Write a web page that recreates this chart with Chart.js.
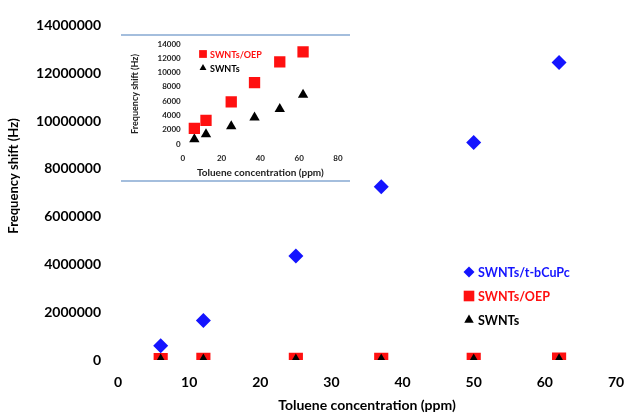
<!DOCTYPE html>
<html>
<head>
<meta charset="utf-8">
<script src="https://cdn.jsdelivr.net/npm/chart.js@4/dist/chart.umd.min.js"></script>
<style>
  html, body { margin: 0; padding: 0; background: #fff; }
  #wrap { position: relative; width: 627px; height: 415px; }
  #main { position: absolute; left: 0; top: 0; }
  #insetBox {
    position: absolute; left: 121px; top: 34px; width: 229px; height: 144px;
    background: #fff; border-top: 2px solid #a4bedd; border-bottom: 2px solid #a4bedd;
  }
  #inset { position: absolute; left: 0; top: 0; }
</style>
</head>
<body>
<div id="wrap">
  <canvas id="main" width="627" height="415"></canvas>
  <div id="insetBox"><canvas id="inset" width="229" height="144"></canvas></div>
</div>
<script>
// Données
const concentration = [6, 12, 25, 37, 50, 62];
const tbcupcShift = [600000, 1650000, 4350000, 7250000, 9100000, 12450000];
const oepShift = [2200, 3300, 5900, 8600, 11500, 12900];
const swntShift = [650, 1350, 2500, 3700, 4900, 6900];

const mainXTicks = [0, 10, 20, 30, 40, 50, 60, 70];
const mainYTicks = [0, 2000000, 4000000, 6000000, 8000000, 10000000, 12000000, 14000000];
const insetXTicks = [0, 20, 40, 60, 80];
const insetYTicks = [0, 2000, 4000, 6000, 8000, 10000, 12000, 14000];

const seriesNames = ['SWNTs/t-bCuPc', 'SWNTs/OEP', 'SWNTs'];
const blueColor = '#1414ff';
const redColor = '#ff1010';
const blackColor = '#000000';
const fontFamily = 'Lato, "Liberation Sans", sans-serif';

function toPoints(xs, ys) {
    return xs.map((x, i) => ({ x: x, y: ys[i] }));
}

// on retire la marge automatique des libellés d'extrémité
function noEdgePadding(scale) {
    scale.paddingLeft = 0;
    scale.paddingRight = 0;
}

/**
 * Légende et titre de l'axe Y dessinés à la main dans la zone du graphique principal.
 */
const mainDecor = {
    id: 'mainDecor',
    afterDraw(chart) {
        const ctx = chart.ctx;
        const area = chart.chartArea;
        const items = [
            { label: seriesNames[0], color: blueColor, style: 'rectRot', r: 5.5 },
            { label: seriesNames[1], color: redColor, style: 'rect', r: 7.5 },
            { label: seriesNames[2], color: blackColor, style: 'triangle', r: 5.5 }
        ];
        ctx.save();
        ctx.font = 'bold 12.5px ' + fontFamily;
        ctx.textBaseline = 'middle';
        items.forEach((item, i) => {
            const y = 272 + i * 24;
            ctx.fillStyle = item.color;
            ctx.strokeStyle = item.color;
            Chart.helpers.drawPoint(ctx, { pointStyle: item.style, radius: item.r, borderWidth: 0 }, area.left + 351, y);
            ctx.fillStyle = item.color;
            ctx.fillText(item.label, area.left + 360, y + 1);
        });

        ctx.translate(14, 176);
        ctx.rotate(-Math.PI / 2);
        ctx.textAlign = 'center';
        ctx.fillStyle = '#000';
        ctx.font = 'bold 13px ' + fontFamily;
        ctx.fillText('Frequency shift (Hz)', 0, 0);
        ctx.restore();
    }
};

new Chart(document.getElementById('main').getContext('2d'), {
    type: 'scatter',
    data: {
        datasets: [
            {
                label: seriesNames[0],
                data: toPoints(concentration, tbcupcShift),
                pointStyle: 'rectRot',
                pointRadius: 7.5,
                backgroundColor: blueColor,
                borderColor: blueColor,
                borderWidth: 0,
                order: 2
            },
            {
                label: seriesNames[1],
                data: toPoints(concentration, oepShift),
                pointStyle: 'rect',
                pointRadius: 10,
                backgroundColor: redColor,
                borderColor: redColor,
                borderWidth: 0,
                order: 1
            },
            {
                label: seriesNames[2],
                data: toPoints(concentration, swntShift),
                pointStyle: 'triangle',
                pointRadius: 6.5,
                backgroundColor: blackColor,
                borderColor: blackColor,
                borderWidth: 0,
                order: 0
            }
        ]
    },
    options: {
        responsive: false,
        animation: false,
        layout: { padding: { left: 0, right: 11, top: 20, bottom: 0 } },
        scales: {
            x: {
                type: 'linear',
                min: mainXTicks[0],
                max: mainXTicks[mainXTicks.length - 1],
                afterBuildTicks: s => { s.ticks = mainXTicks.map(v => ({ value: v })); },
                afterFit: s => { s.height = 55; noEdgePadding(s); },
                grid: { display: false, drawTicks: false },
                border: { display: false },
                ticks: { padding: 14, color: '#000', font: { family: fontFamily, size: 14, weight: 'bold' } },
                title: {
                    display: true,
                    text: 'Toluene concentration (ppm)',
                    color: '#000',
                    padding: { top: 0, bottom: 1 },
                    font: { family: fontFamily, size: 14, weight: 'bold' }
                }
            },
            y: {
                min: mainYTicks[0],
                max: mainYTicks[mainYTicks.length - 1],
                afterBuildTicks: s => { s.ticks = mainYTicks.map(v => ({ value: v })); },
                afterFit: s => { s.width = 118; },
                grid: { display: false, drawTicks: false },
                border: { display: false },
                ticks: {
                    padding: 17,
                    color: '#000',
                    font: { family: fontFamily, size: 14, weight: 'bold' },
                    callback: v => String(v)
                }
            }
        },
        plugins: { legend: { display: false }, tooltip: { enabled: false } }
    },
    plugins: [mainDecor]
});

/**
 * Légende de l'encart.
 */
const insetLegend = {
    id: 'insetLegend',
    afterDraw(chart) {
        const ctx = chart.ctx;
        const items = [
            { label: seriesNames[1], color: redColor, style: 'rect', r: 5.5, y: 18 },
            { label: seriesNames[2], color: blackColor, style: 'triangle', r: 4, y: 32 }
        ];
        ctx.save();
        ctx.font = 'bold 9px ' + fontFamily;
        ctx.textBaseline = 'middle';
        items.forEach(item => {
            ctx.fillStyle = item.color;
            ctx.strokeStyle = item.color;
            Chart.helpers.drawPoint(ctx, { pointStyle: item.style, radius: item.r, borderWidth: 0 }, 82, item.y);
            ctx.fillStyle = item.color;
            ctx.fillText(item.label, 89, item.y + 1);
        });
        ctx.restore();
    }
};

new Chart(document.getElementById('inset').getContext('2d'), {
    type: 'scatter',
    data: {
        datasets: [
            {
                label: seriesNames[1],
                data: toPoints(concentration, oepShift),
                pointStyle: 'rect',
                pointRadius: 8,
                backgroundColor: redColor,
                borderColor: redColor,
                borderWidth: 0
            },
            {
                label: seriesNames[2],
                data: toPoints(concentration, swntShift),
                pointStyle: 'triangle',
                pointRadius: 6,
                backgroundColor: blackColor,
                borderColor: blackColor,
                borderWidth: 0
            }
        ]
    },
    options: {
        responsive: false,
        animation: false,
        layout: { padding: { left: 0, right: 12, top: 6.7, bottom: 0 } },
        scales: {
            x: {
                type: 'linear',
                min: insetXTicks[0],
                max: insetXTicks[insetXTicks.length - 1],
                afterBuildTicks: s => { s.ticks = insetXTicks.map(v => ({ value: v })); },
                afterFit: s => { s.height = 36; noEdgePadding(s); },
                grid: { display: false, drawTicks: false },
                border: { display: false },
                ticks: { padding: 10, color: '#222', font: { family: fontFamily, size: 8, weight: 'bold' } },
                title: {
                    display: true,
                    text: 'Toluene concentration (ppm)',
                    color: '#222',
                    padding: { top: 0, bottom: 1.5 },
                    font: { family: fontFamily, size: 10, weight: 'bold' }
                }
            },
            y: {
                min: insetYTicks[0],
                max: insetYTicks[insetYTicks.length - 1],
                afterBuildTicks: s => { s.ticks = insetYTicks.map(v => ({ value: v })); },
                afterFit: s => { s.width = 61.7; },
                grid: { display: false, drawTicks: false },
                border: { display: false },
                ticks: {
                    padding: 2,
                    color: '#222',
                    font: { family: fontFamily, size: 8, weight: 'bold' },
                    callback: v => String(v)
                },
                title: {
                    display: true,
                    text: 'Frequency shift (Hz)',
                    color: '#222',
                    padding: { top: 8.5, bottom: 0 },
                    font: { family: fontFamily, size: 9, weight: 'bold' }
                }
            }
        },
        plugins: { legend: { display: false }, tooltip: { enabled: false } }
    },
    plugins: [insetLegend]
});
</script>
</body>
</html>
